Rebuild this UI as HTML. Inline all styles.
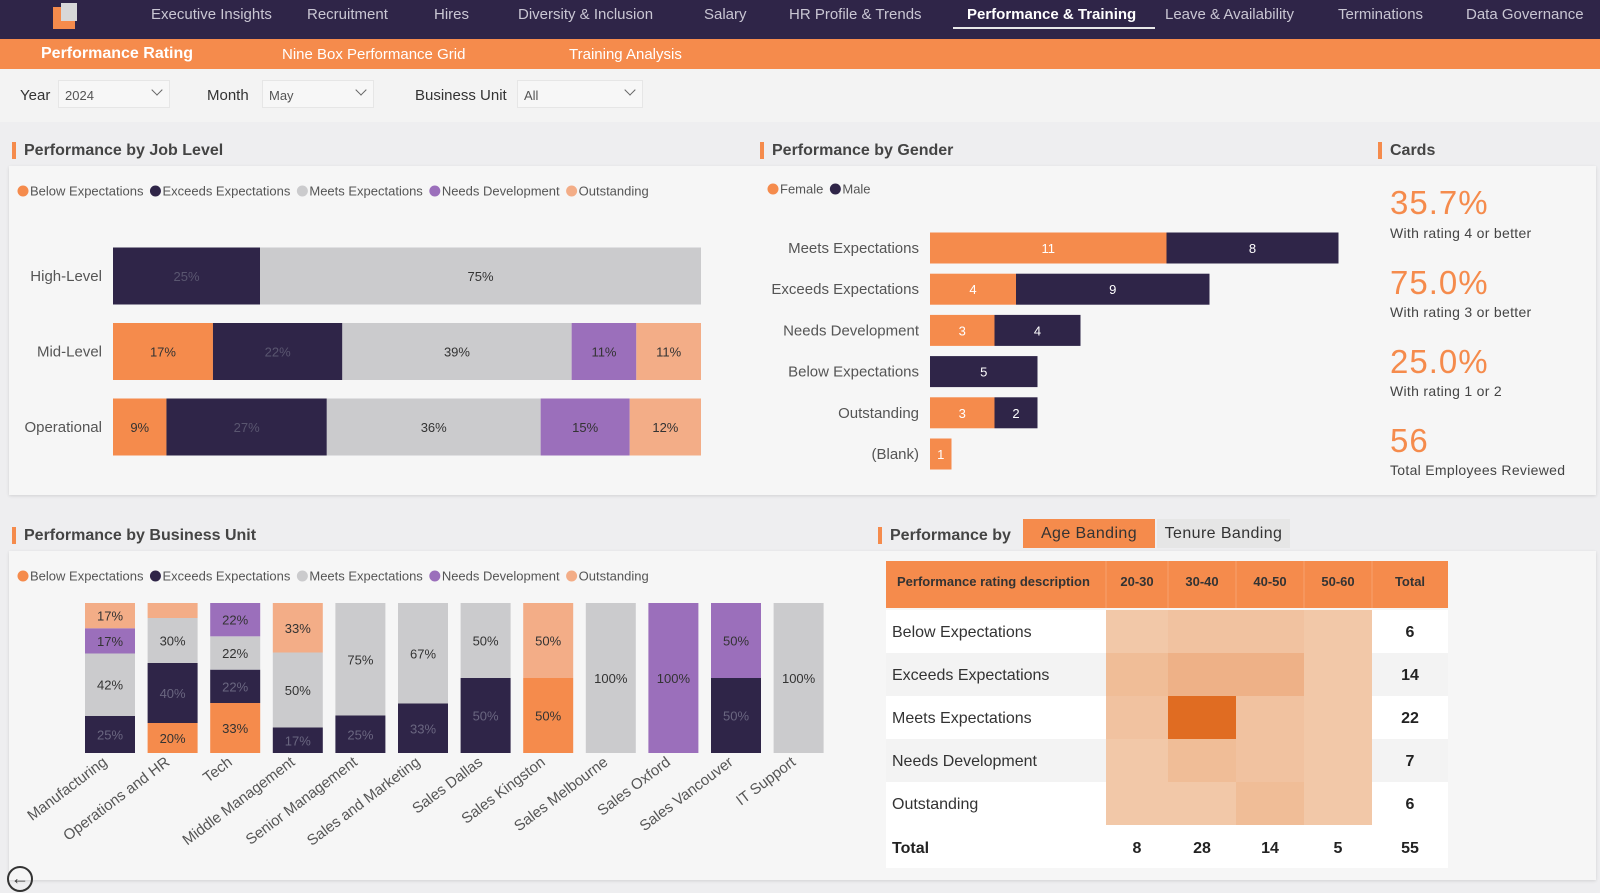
<!DOCTYPE html>
<html><head><meta charset="utf-8">
<style>
*{box-sizing:border-box;margin:0;padding:0}
body{width:1600px;height:893px;overflow:hidden;background:#eeeef0;font-family:"Liberation Sans",sans-serif;position:relative;color:#333}
.abs{position:absolute}
.nav{left:0;top:0;width:1600px;height:39px;background:#2f2548}
.nav span{position:absolute;top:6px;font-size:15px;color:#c9c6d3;white-space:nowrap}
.sub{left:0;top:39px;width:1600px;height:30px;background:#f58b4c}
.sub span{position:absolute;top:6px;font-size:15px;color:#fff;white-space:nowrap}
.filt{left:0;top:69px;width:1600px;height:53px;background:#f3f3f3}
.flab{position:absolute;top:18px;font-size:15px;color:#333}
.dd{position:absolute;top:11px;height:28px;background:#f7f7f7;border:1px solid #e6e6e6;font-size:13px;color:#555;padding:7px 6px}
.dd i{position:absolute;right:8px;top:5px;width:8px;height:8px;border-right:1.3px solid #666;border-bottom:1.3px solid #666;transform:rotate(45deg)}
.band{background:#f6f6f6;box-shadow:0 1px 3px rgba(0,0,0,.12)}
.ttl{position:absolute;font-size:16px;font-weight:bold;color:#444;padding-left:8px;border-left:4px solid #f58b4c;line-height:17px}
.card-v{position:absolute;left:1390px;font-size:33px;color:#f58b4c;letter-spacing:1px}
.card-s{position:absolute;left:1390px;font-size:14px;color:#444;letter-spacing:.3px}
</style></head><body>
<div class="abs nav">
  <div class="abs" style="left:53px;top:3px;width:25px;height:26px">
    <div class="abs" style="left:0;top:4px;width:8px;height:22px;background:#f58b4c"></div>
    <div class="abs" style="left:0;top:18px;width:22px;height:8px;background:#f58b4c"></div>
    <div class="abs" style="left:8px;top:0;width:16px;height:18px;background:#d8d8d8"></div>
  </div>
  <span style="left:151px">Executive Insights</span>
  <span style="left:307px">Recruitment</span>
  <span style="left:434px">Hires</span>
  <span style="left:518px">Diversity &amp; Inclusion</span>
  <span style="left:704px">Salary</span>
  <span style="left:789px">HR Profile &amp; Trends</span>
  <span style="left:967px;color:#fff;font-weight:bold">Performance &amp; Training</span>
  <div class="abs" style="left:953px;top:27px;width:202px;height:2px;background:#e8e8e8"></div>
  <span style="left:1165px">Leave &amp; Availability</span>
  <span style="left:1338px">Terminations</span>
  <span style="left:1466px">Data Governance</span>
</div>
<div class="abs sub">
  <span style="left:41px;font-weight:bold;font-size:16px;top:6px">Performance Rating</span>
  <span style="left:282px;top:7px">Nine Box Performance Grid</span>
  <span style="left:569px;top:7px">Training Analysis</span>
</div>
<div class="abs filt">
  <div class="flab" style="left:20px">Year</div>
  <div class="dd" style="left:58px;width:112px">2024<i></i></div>
  <div class="flab" style="left:207px">Month</div>
  <div class="dd" style="left:262px;width:112px">May<i></i></div>
  <div class="flab" style="left:415px">Business Unit</div>
  <div class="dd" style="left:517px;width:126px">All<i></i></div>
</div>

<div class="abs band" style="left:9px;top:166px;width:1587px;height:329px"></div>
<div class="abs band" style="left:9px;top:551px;width:1587px;height:329px"></div>

<div class="ttl" style="left:12px;top:142px">Performance by Job Level</div>
<div class="ttl" style="left:760px;top:142px">Performance by Gender</div>
<div class="ttl" style="left:1378px;top:142px">Cards</div>
<div class="ttl" style="left:12px;top:527px">Performance by Business Unit</div>
<div class="ttl" style="left:878px;top:527px">Performance by</div>
<div class="abs" style="left:1023px;top:519px;width:132px;height:29px;background:#f58b4c;color:#333;font-size:16px;text-align:center;line-height:29px;letter-spacing:.4px">Age Banding</div>
<div class="abs" style="left:1157px;top:519px;width:133px;height:29px;background:#e6e6e6;color:#333;font-size:16px;text-align:center;line-height:29px;letter-spacing:.4px">Tenure Banding</div>

<div class="card-v" style="top:184px">35.7%</div>
<div class="card-s" style="top:225px">With rating 4 or better</div>
<div class="card-v" style="top:264px">75.0%</div>
<div class="card-s" style="top:304px">With rating 3 or better</div>
<div class="card-v" style="top:343px">25.0%</div>
<div class="card-s" style="top:383px">With rating 1 or 2</div>
<div class="card-v" style="top:422px">56</div>
<div class="card-s" style="top:462px">Total Employees Reviewed</div>

<svg class="abs" style="left:0;top:0" width="1600" height="893" id="charts"></svg>

<div class="abs" style="left:7px;top:866px;width:26px;height:26px;border:2px solid #333;border-radius:50%;font-size:18px;line-height:20px;text-align:center;color:#333">&#8592;</div>

<script>
// ---- Job level chart data ----
const seriesNames = ["Below Expectations","Exceeds Expectations","Meets Expectations","Needs Development","Outstanding"];
const jobLevels = ["High-Level","Mid-Level","Operational"];
const jlBelow = [0,17,9];
const jlExceeds = [25,22,27];
const jlMeets = [75,39,36];
const jlNeeds = [0,11,15];
const jlOutstanding = [0,11,12];
// ---- Gender chart data ----
const genderCats = ["Meets Expectations","Exceeds Expectations","Needs Development","Below Expectations","Outstanding","(Blank)"];
const female = [11,4,3,0,3,1];
const male = [8,9,4,5,2,0];
// ---- Business unit chart data ----
const units = ["Manufacturing","Operations and HR","Tech","Middle Management","Senior Management","Sales and Marketing","Sales Dallas","Sales Kingston","Sales Melbourne","Sales Oxford","Sales Vancouver","IT Support"];
const buBelow = [0,20,33,0,0,0,0,50,0,0,0,0];
const buExceeds = [25,40,22,17,25,33,50,0,0,0,50,0];
const buMeets = [42,30,22,50,75,67,50,0,100,0,0,100];
const buNeeds = [17,0,22,0,0,0,0,0,0,100,50,0];
const buOutstanding = [17,10,0,33,0,0,0,50,0,0,0,0];
// ---- Heatmap data ----
const ratings = ["Below Expectations","Exceeds Expectations","Meets Expectations","Needs Development","Outstanding"];
const ageBands = ["20-30","30-40","40-50","50-60"];
const hmBelow = [1,2,2,1];
const hmExceeds = [3,5,5,1];
const hmMeets = [2,17,2,1];
const hmNeeds = [1,3,2,1];
const hmOutstanding = [1,1,3,1];

const colors = ["#f58b4c","#2f2548","#cbcbcd","#9b6fbb","#f3ad87"];
const NS = "http://www.w3.org/2000/svg";
const svg = document.getElementById('charts');
function mk(tag, attrs, parent){const e=document.createElementNS(NS,tag);for(const k in attrs)e.setAttribute(k,attrs[k]);(parent||svg).appendChild(e);return e;}
function txt(x,y,s,attrs){const t=mk('text',Object.assign({x:x,y:y,'font-family':'Liberation Sans, sans-serif'},attrs));t.textContent=s;return t;}

function legend(x,y,names,cols){
  let cx=x;
  names.forEach((n,i)=>{
    const c=mk('circle',{cx:cx+6,cy:y,r:5.5,fill:cols[i]});
    
    
    const t=txt(cx+13,y+4.5,n,{'font-size':13,fill:'#555'});
    
    
    let w=n.length*6.6; try{w=t.getComputedTextLength();}catch(e){}
    cx+=13+w+6;
  });
}

// Job level
legend(17,191,seriesNames,colors);
const jl=[jlBelow,jlExceeds,jlMeets,jlNeeds,jlOutstanding];
const jlX0=113,jlX1=701,jlY0=276,jlStep=75.5,jlH=57;
jobLevels.forEach((lv,i)=>{
  const total=jl.reduce((s,a)=>s+a[i],0);
  const xs=v=>v/total*(jlX1-jlX0);
  const cy=jlY0+i*jlStep;
  const lab=txt(102,cy+5,lv,{'font-size':15,fill:'#555','text-anchor':'end'});
  
  
  let x=jlX0;
  jl.forEach((arr,s)=>{
    const v=arr[i]; if(!v) return;
    const w=xs(v);
    const r=mk('rect',{x:x,y:cy-jlH/2,width:w,height:jlH,fill:colors[s]});
    
    
    const t=txt(x+w/2,cy+5,v+'%',{'font-size':13,fill:s===1?'#5a5670':'#333','text-anchor':'middle'});
    
    
    x+=w;
  });
});

// Gender
legend(767,189,["Female","Male"],[colors[0],colors[1]]);
const gX0=930,gUnit=21.5,gY0=248,gStep=41.2,gH=31;
genderCats.forEach((c,i)=>{
  const cy=gY0+i*gStep;
  const lab=txt(919,cy+5,c,{'font-size':15,fill:'#555','text-anchor':'end'});
  
  
  let x=gX0;
  [[female,colors[0]],[male,colors[1]]].forEach(([arr,col])=>{
    const v=arr[i]; if(!v) return;
    const w=v*gUnit;
    const r=mk('rect',{x:x,y:cy-gH/2,width:w,height:gH,fill:col});
    
    
    const t=txt(x+w/2,cy+5,String(v),{'font-size':13,fill:'#fff','text-anchor':'middle'});
    
    
    x+=w;
  });
});

// Business unit
legend(17,576,seriesNames,colors);
const bu=[buBelow,buExceeds,buMeets,buNeeds,buOutstanding];
const buX0=110,buStep=62.6,buW=50,buTop=603,buBot=753;
units.forEach((u,i)=>{
  const cx=buX0+i*buStep;
  const total=bu.reduce((s,a)=>s+a[i],0);
  let y=buBot;
  bu.forEach((arr,s)=>{
    const v=arr[i]; if(!v) return;
    const h=v/total*(buBot-buTop);
    const r=mk('rect',{x:cx-buW/2,y:y-h,width:buW,height:h,fill:colors[s]});
    
    
    if(v>=15){
      const t=txt(cx,y-h/2+5,v+'%',{'font-size':13,fill:s===1?'#6a6680':'#333','text-anchor':'middle'});
      
      
    }
    y-=h;
  });
  const lx=cx-2, ly=764;
  const lab=txt(lx,ly,u,{'font-size':15,fill:'#555','text-anchor':'end',transform:`rotate(-37 ${lx} ${ly})`});
  
  
});

// Heatmap table
const hm=[hmBelow,hmExceeds,hmMeets,hmNeeds,hmOutstanding];
const colX=[886,1106,1168,1236,1304,1372,1448];
const rowTop=610,rowH=43;
mk('rect',{x:886,y:561,width:562,height:47,fill:'#f58b4c'});
const hdrs=["Performance rating description"].concat(ageBands,["Total"]);
hdrs.forEach((h,j)=>{
  const x=j===0?897:(colX[j]+colX[j+1])/2;
  const t=txt(x,586,h,{'font-size':13,'font-weight':'bold',fill:'#333','text-anchor':j===0?'start':'middle'});
  
  
  if(j>0) mk('line',{x1:colX[j],y1:561,x2:colX[j],y2:608,stroke:'#f6a06e'});
});
let vmax=0,vmin=1e9;hm.forEach(r=>r.forEach(v=>{vmax=Math.max(vmax,v);vmin=Math.min(vmin,v);}));
function heat(v){const t=(v-vmin)/(vmax-vmin||1);const a=[242,200,168],b=[224,108,34];return `rgb(${a.map((c,k)=>Math.round(c+(b[k]-c)*t)).join(',')})`;}
const colTotals=ageBands.map((_,j)=>hm.reduce((s,r)=>s+r[j],0));
ratings.forEach((rname,i)=>{
  const y=rowTop+i*rowH;
  mk('rect',{x:886,y:y,width:562,height:rowH,fill:i%2?'#f3f3f3':'#ffffff'});
  const t=txt(892,y+27,rname,{'font-size':16,fill:'#333'});
  
  
  hm[i].forEach((v,j)=>{
    const c=mk('rect',{x:colX[j+1],y:y,width:colX[j+2]-colX[j+1],height:rowH,fill:heat(v)});
    
    
  });
  const tot=hm[i].reduce((s,v)=>s+v,0);
  const tt=txt((colX[5]+colX[6])/2,y+27,String(tot),{'font-size':16,'font-weight':'bold',fill:'#222','text-anchor':'middle'});
  
  
});
const ty=rowTop+5*rowH;
mk('rect',{x:886,y:ty,width:562,height:rowH,fill:'#ffffff'});
const tl=txt(892,ty+28,'Total',{'font-size':16,'font-weight':'bold',fill:'#222'});


colTotals.concat([colTotals.reduce((a,b)=>a+b,0)]).forEach((v,j)=>{
  const t=txt((colX[j+1]+colX[j+2])/2,ty+28,String(v),{'font-size':16,'font-weight':'bold',fill:'#222','text-anchor':'middle'});
  
  
});
</script>
</body></html>
